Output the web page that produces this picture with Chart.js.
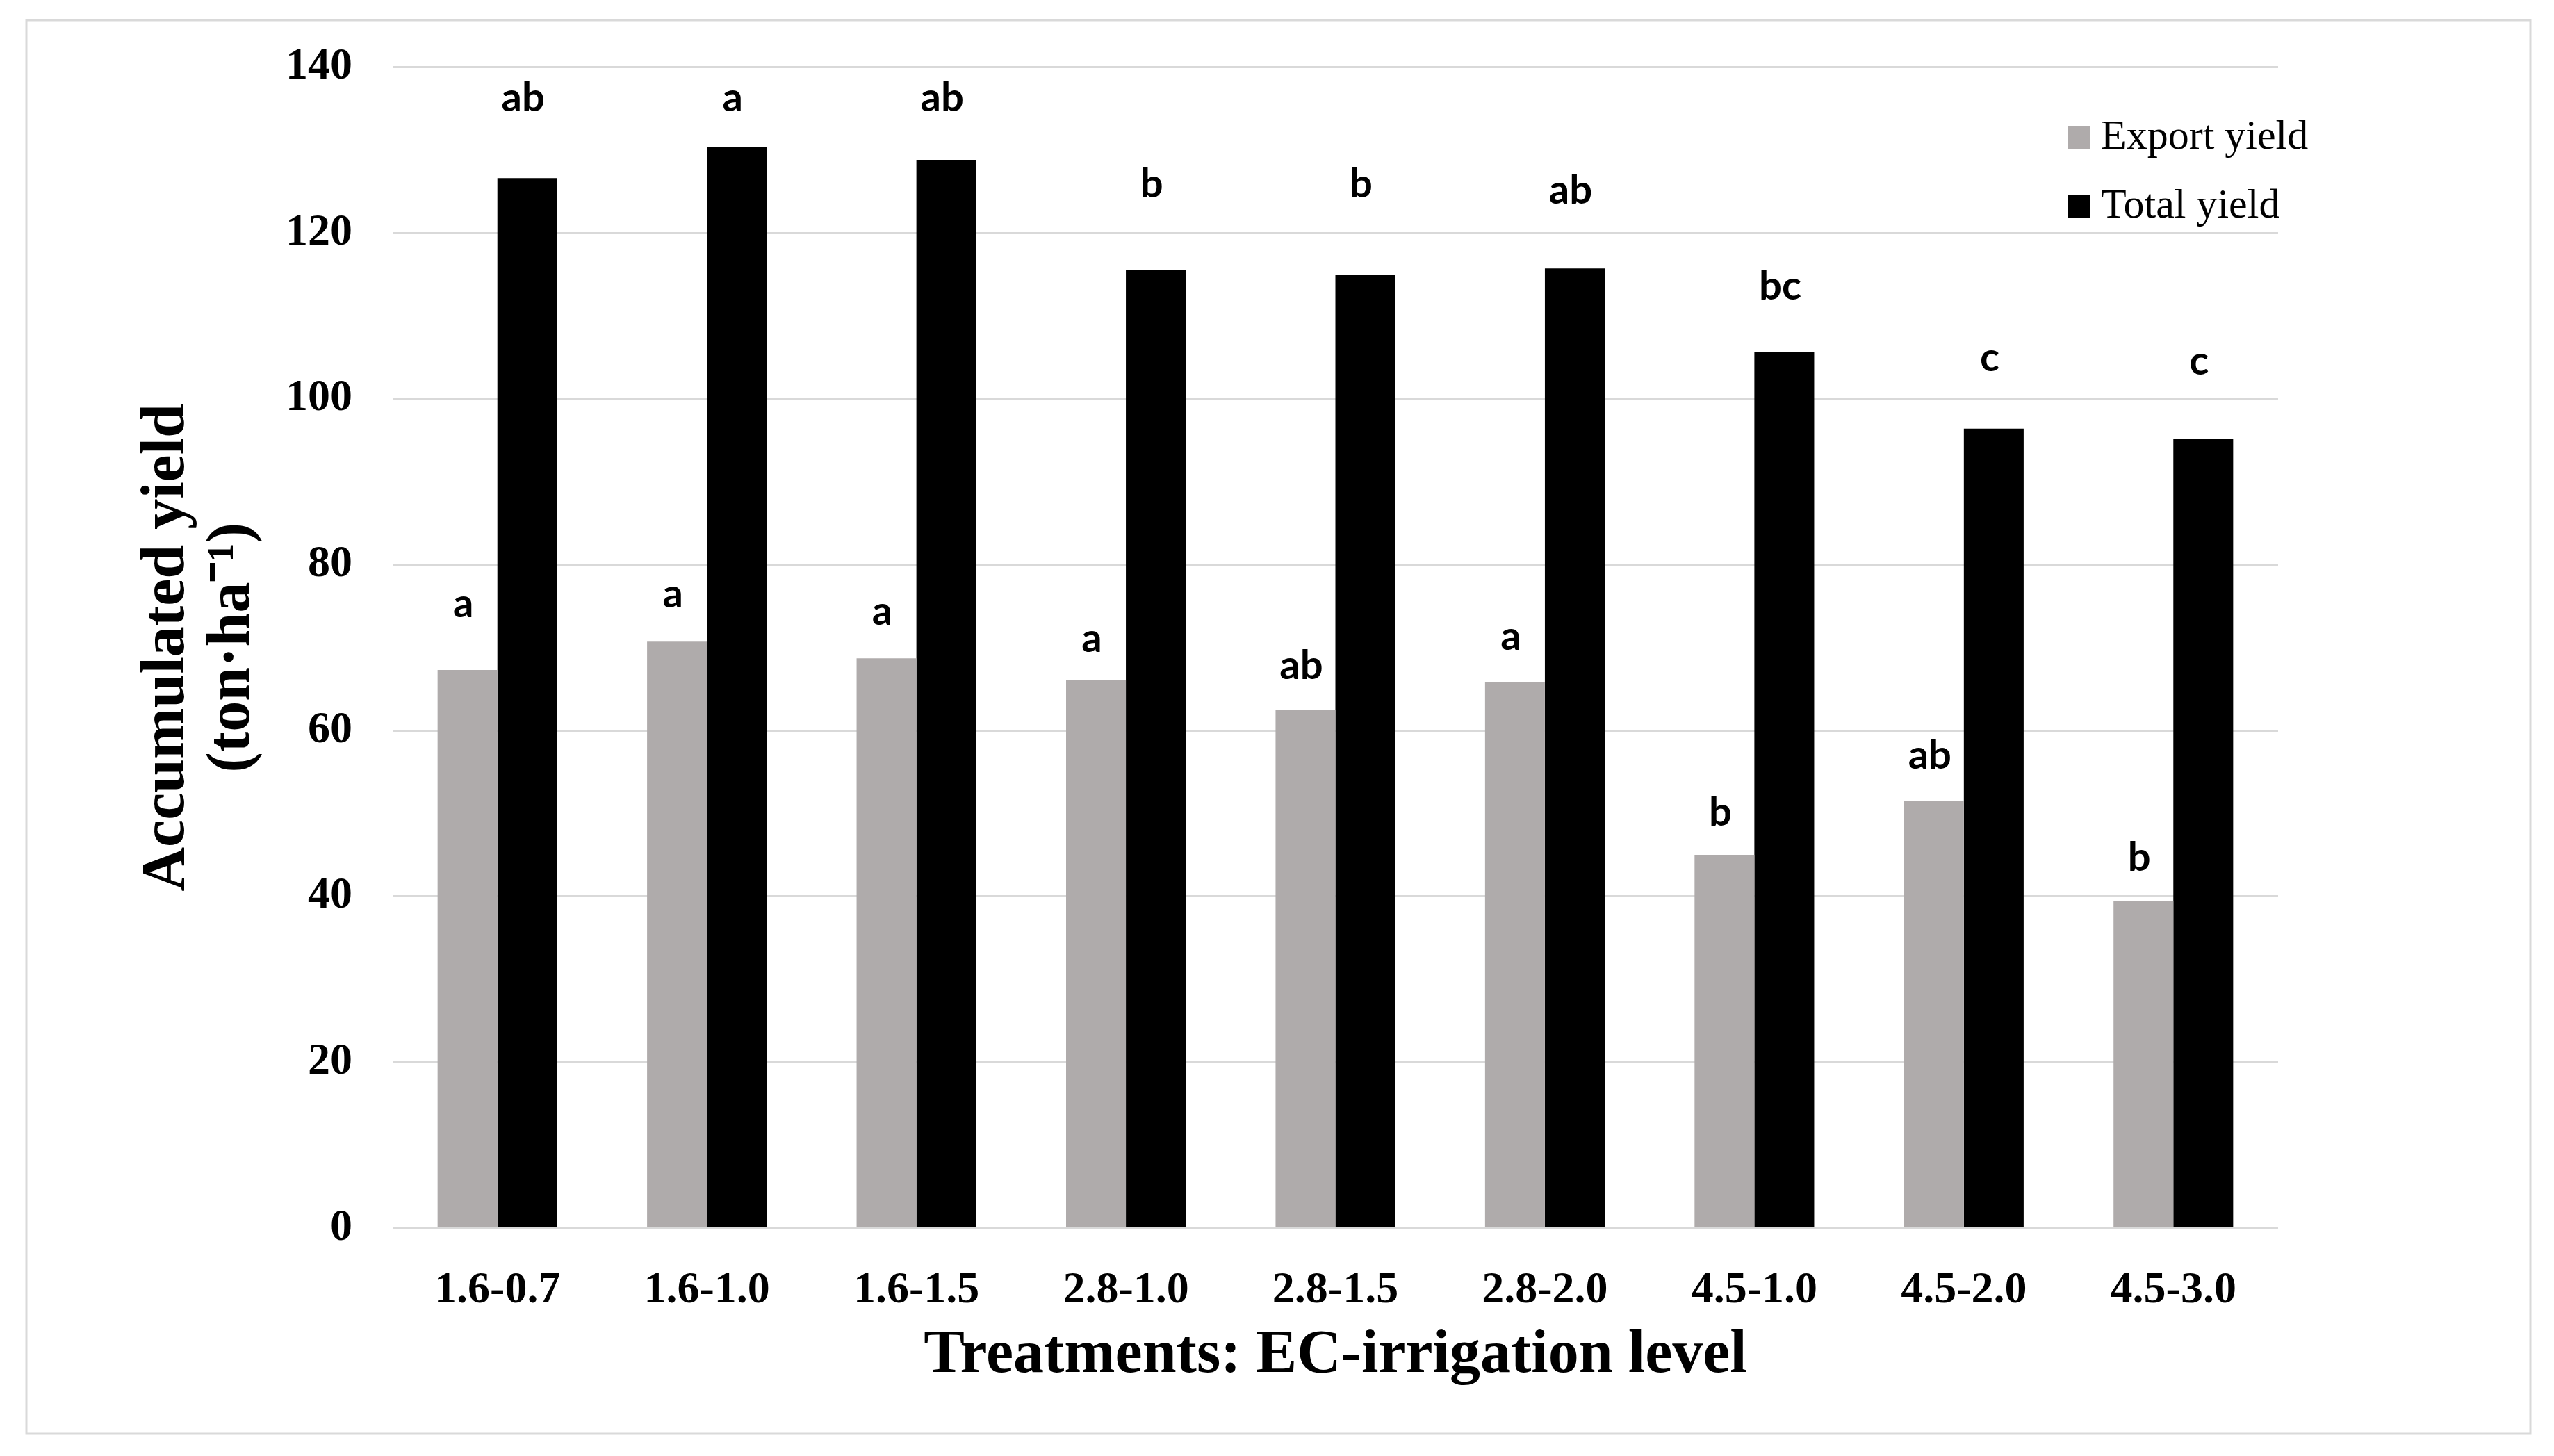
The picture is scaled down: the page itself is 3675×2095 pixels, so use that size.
<!DOCTYPE html>
<html>
<head>
<meta charset="utf-8">
<script src="https://cdn.jsdelivr.net/npm/chart.js@4.4.1/dist/chart.umd.min.js"></script>
<style>
  html, body { margin: 0; padding: 0; background: #fff; }
  canvas { display: block; }
</style>
</head>
<body>
<canvas id="yieldChart" width="3675" height="2095"></canvas>
<script>
// values (ton/ha)
const treatments = ['1.6-0.7', '1.6-1.0', '1.6-1.5', '2.8-1.0', '2.8-1.5', '2.8-2.0', '4.5-1.0', '4.5-2.0', '4.5-3.0'];
const exportYield = [67.3, 70.7, 68.7, 66.1, 62.5, 65.8, 45.0, 51.5, 39.4];
const totalYield = [126.6, 130.4, 128.8, 115.5, 114.9, 115.7, 105.6, 96.4, 95.2];

// significance letters and the value they sit at (top of the hidden error bars)
const exportLetters = ['a', 'a', 'a', 'a', 'ab', 'a', 'b', 'ab', 'b'];
const totalLetters = ['ab', 'a', 'ab', 'b', 'b', 'ab', 'bc', 'c', 'c'];
const exportLetterAt = [73.7, 74.8, 72.7, 69.5, 66.2, 69.7, 48.5, 55.4, 43.1];
const totalLetterAt = [134.7, 134.7, 134.7, 124.3, 124.3, 123.5, 112.0, 103.3, 102.9];

const GREY = '#afabab';
const GRID = '#d9d9d9';

Chart.defaults.font.family = '"Liberation Serif", "Times New Roman", serif';
Chart.defaults.color = '#000';

// white page with the thin frame round the whole figure
const framePlugin = {
  id: 'frame',
  beforeDraw(chart) {
    const ctx = chart.ctx;
    ctx.save();
    ctx.fillStyle = '#fff';
    ctx.fillRect(0, 0, chart.width, chart.height);
    ctx.strokeStyle = GRID;
    ctx.lineWidth = 3;
    ctx.strokeRect(38, 29, 3603, 2034);
    ctx.restore();
  }
};

// letters above each bar
const lettersPlugin = {
  id: 'letters',
  afterDatasetsDraw(chart) {
    const ctx = chart.ctx;
    const y = chart.scales.y;
    const sets = [[exportLetters, exportLetterAt], [totalLetters, totalLetterAt]];
    ctx.save();
    ctx.font = 'bold 58px Lato, "Open Sans", sans-serif';
    ctx.fillStyle = '#000';
    ctx.textAlign = 'center';
    ctx.textBaseline = 'alphabetic';
    sets.forEach(([letters, at], di) => {
      chart.getDatasetMeta(di).data.forEach((bar, i) => {
        ctx.fillText(letters[i], bar.x - 6, y.getPixelForValue(at[i]));
      });
    });
    ctx.restore();
  }
};

// legend floating in the upper right of the plot
const legendPlugin = {
  id: 'floatLegend',
  afterDraw(chart) {
    const ctx = chart.ctx;
    ctx.save();
    ctx.font = '60px "Liberation Serif", serif';
    ctx.textBaseline = 'middle';
    ctx.textAlign = 'left';
    chart.data.datasets.forEach((ds, i) => {
      const cy = 198 + i * 99;
      ctx.fillStyle = ds.backgroundColor;
      ctx.fillRect(2975, cy - 16, 32, 32);
      ctx.fillStyle = '#000';
      ctx.fillText(ds.label, 3023, cy);
    });
    ctx.restore();
  }
};

new Chart(document.getElementById('yieldChart'), {
  type: 'bar',
  data: {
    labels: treatments,
    datasets: [
      { label: 'Export yield', data: exportYield, backgroundColor: GREY },
      { label: 'Total yield', data: totalYield, backgroundColor: '#000' }
    ]
  },
  options: {
    responsive: false,
    animation: false,
    devicePixelRatio: 1,
    layout: { padding: { top: 92, right: 397, left: 0, bottom: 0 } },
    datasets: {
      bar: { categoryPercentage: 0.571, barPercentage: 1.0 }
    },
    plugins: {
      legend: { display: false },
      tooltip: { enabled: false }
    },
    scales: {
      x: {
        grid: { display: false },
        border: { display: false },
        ticks: { font: { size: 64, weight: 'bold' }, padding: 44 },
        title: {
          display: true,
          text: 'Treatments: EC-irrigation level',
          font: { size: 88, weight: 'bold', lineHeight: 1.07 },
          padding: { top: 0, bottom: 97 }
        },
        afterFit(scale) { scale.height = 328; }
      },
      y: {
        min: 0,
        max: 140,
        ticks: { stepSize: 20, font: { size: 64, weight: 'bold' }, padding: 58 },
        grid: { color: GRID, lineWidth: 3, drawTicks: false },
        border: { display: false },
        title: {
          display: true,
          text: ['Accumulated yield', '(ton\u00b7ha\u207b\u00b9)'],
          font: { size: 88, weight: 'bold', lineHeight: 1.07 },
          padding: { top: 194, bottom: 0 }
        },
        afterFit(scale) { scale.width = 565; }
      }
    }
  },
  plugins: [framePlugin, lettersPlugin, legendPlugin]
});
</script>
</body>
</html>
